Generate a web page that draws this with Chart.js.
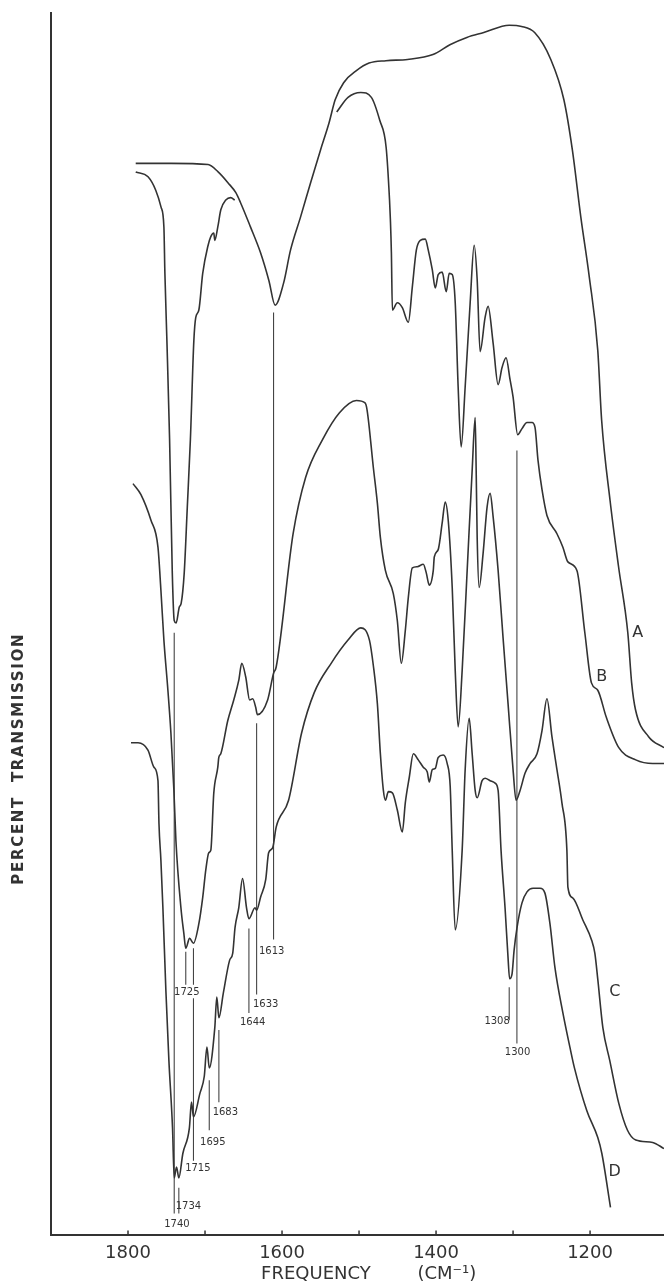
<!DOCTYPE html>
<html>
<head>
<meta charset="utf-8">
<script src="https://cdn.jsdelivr.net/npm/chart.js@4.4.1/dist/chart.umd.min.js"></script>
<style>
  html, body { margin: 0; padding: 0; background: #fff; }
  canvas { display: block; }
</style>
</head>
<body>
<canvas id="spectra" width="664" height="1287"></canvas>
<script>
// wavenumber (cm-1) and transmission, one pair of lists per trace
const aFreq = [1790, 1744, 1696, 1683, 1670, 1660, 1654, 1641, 1628, 1617, 1609, 1598, 1589, 1576, 1563, 1550, 1539, 1531, 1520, 1503,
  1487, 1465, 1437, 1404, 1382, 1360, 1338, 1305, 1289, 1272, 1251, 1234, 1223, 1212, 1201, 1190, 1185, 1174, 1163, 1151,
  1146, 1141, 1124, 1104];
const aT = [87.7, 87.7, 87.6, 87.0, 86.1, 85.3, 84.5, 82.5, 80.4, 78.1, 76.1, 77.9, 80.6, 83.3, 86.1, 88.8, 91.0, 92.9, 94.3, 95.3,
  95.9, 96.1, 96.2, 96.6, 97.4, 98.0, 98.4, 99.0, 98.9, 98.4, 96.2, 92.9, 88.8, 83.3, 78.4, 72.4, 66.7, 60.1, 54.7, 49.3,
  45.2, 43.0, 40.8, 39.9];

// B runs under A between 1660 and 1530, so it has a break there
const bFreq = [1790, 1774, 1764, 1757, 1753.4, 1752.1, 1749.5, 1746, 1742.5, 1740, 1737.5, 1733.4, 1731, 1727, 1723, 1719, 1714.5, 1712, 1708, 1703,
  1696.4, 1692.5, 1688.6, 1687.3, 1683.4, 1679.5, 1673, 1666.6, 1661.4,
  1600,
  1529, 1514.3, 1497.7, 1484, 1473, 1464.8, 1460.4, 1459.3, 1458, 1456.7, 1450.3, 1443.8, 1436, 1430.8, 1425.6, 1420.5, 1414, 1410.1, 1404.9, 1401,
  1397.2, 1392, 1386.8, 1382.9, 1379, 1375.1, 1371.3, 1367.4, 1362.2, 1355.7, 1350.5, 1346.6, 1342.8, 1336.3, 1332.4, 1325.9, 1319.4, 1314.3, 1309.1, 1303.9,
  1300, 1294, 1288.4, 1281.9, 1275.4, 1271.5, 1267.6, 1262.4, 1256, 1243, 1235.3, 1228.8, 1217.1, 1206.8, 1198.2, 1190, 1179, 1162.7, 1140.7, 1118.7,
  1104];
const bT = [87.0, 86.6, 85.5, 84.1, 82.5, 78.7, 73.2, 65.1, 54.2, 50.3, 50.1, 51.4, 51.7, 54.2, 59.6, 65.1, 73.2, 75.1, 75.7, 78.7,
  80.9, 81.7, 82.0, 81.4, 82.5, 83.9, 84.7, 84.9, 84.7,
  null,
  91.9, 93.1, 93.5, 93.1, 91.2, 89.0, 84.7, 83.1, 80.4, 75.7, 76.3, 75.9, 74.7, 77.6, 80.6, 81.4, 81.5, 80.6, 79.0, 77.5,
  78.6, 78.8, 77.2, 78.7, 78.6, 76.3, 69.4, 64.5, 69.4, 76.3, 81.0, 78.2, 72.3, 75.1, 76.0, 73.0, 69.6, 71.0, 71.8, 70.0,
  68.6, 65.5, 66.0, 66.5, 66.5, 66.1, 63.4, 61.0, 58.9, 57.4, 56.3, 55.1, 54.4, 49.3, 45.2, 44.6, 42.4, 39.9, 38.9, 38.6,
  38.6];

const cFreq = [1793.5, 1783.2, 1770.2, 1761.1, 1757.3, 1753.4, 1748.2, 1744.3, 1740.4, 1737.8, 1731.3, 1727.5, 1725, 1720, 1715, 1708, 1702.9, 1699, 1695.1, 1692.5,
  1688.6, 1683.4, 1682.1, 1679.5, 1670.5, 1662.7, 1656.2, 1652.3, 1647.2, 1642, 1638.1, 1634.2, 1632, 1618.7, 1610.9, 1607.6, 1585.6, 1569.4, 1547.4, 1525.4,
  1503.4, 1492.2, 1489.5, 1481.4, 1476.2, 1472.3, 1465.8, 1455.5, 1450.3, 1445.1, 1439.9, 1436, 1430.8, 1424.4, 1416.6, 1412.7, 1408.8, 1403.6, 1402.3, 1397.2,
  1392, 1388.1, 1384.2, 1379, 1375.1, 1371.3, 1366.1, 1359.6, 1353.1, 1349.2, 1347.9, 1346.6, 1344, 1338.9, 1333.7, 1329.8, 1325.9, 1319.4, 1313, 1306.5,
  1300, 1296.1, 1290.9, 1284.5, 1278, 1268.9, 1262.4, 1256, 1249.5, 1243, 1236.6, 1230.1, 1228.8, 1222.3, 1209.4, 1197.7, 1193.8, 1189.9, 1183.4, 1174.4,
  1162.7, 1151.4, 1140.7, 1118.7, 1104];
const cT = [61.5, 60.6, 58.5, 56.3, 52.8, 48.7, 44.6, 41.1, 36.4, 32.3, 26.8, 24.7, 23.5, 24.3, 23.9, 25.5, 27.7, 29.9, 31.3, 31.5,
  36.2, 38.3, 39.1, 39.4, 42.1, 43.8, 45.4, 46.8, 45.7, 43.8, 43.9, 43.2, 42.6, 43.8, 46.0, 46.5, 57.4, 62.0, 65.1, 67.3,
  68.3, 68.1, 67.5, 62.8, 59.9, 57.1, 54.4, 52.5, 50.3, 46.8, 49.5, 52.2, 54.6, 54.7, 54.9, 54.2, 53.2, 54.4, 55.5, 56.1,
  58.3, 60.0, 58.5, 53.0, 46.2, 41.6, 46.2, 54.4, 62.6, 66.9, 62.6, 57.1, 53.0, 55.8, 59.6, 60.7, 58.8, 54.4, 48.9, 43.5,
  38.1, 35.6, 36.4, 37.8, 38.6, 39.4, 41.3, 43.9, 40.8, 38.1, 35.4, 31.5, 28.5, 27.6, 25.8, 24.1, 23.1, 20.9, 17.0, 14.3,
  10.8, 8.6, 7.8, 7.6, 7.1];

const dFreq = [1796.1, 1787, 1774.1, 1766.3, 1761.1, 1759.8, 1757.3, 1754.7, 1750.8, 1746.9, 1742.2, 1740, 1737, 1734, 1728.8, 1720.3, 1717.6, 1715, 1706.7, 1701,
  1697.5, 1694.5, 1687.3, 1684.7, 1682, 1676.3, 1668.1, 1664, 1661, 1656.2, 1651.3, 1646.1, 1643, 1635.1, 1633, 1627.7, 1621.2, 1617.4, 1612.2, 1607.6,
  1591.5, 1574.6, 1558.2, 1536.2, 1514.3, 1497.7, 1486.5, 1481.4, 1476.2, 1472.3, 1468.4, 1465.8, 1461.9, 1456.7, 1450.3, 1443.8, 1439.9, 1434.7, 1429.5, 1423.1,
  1416.6, 1411.4, 1408.8, 1404.9, 1401, 1397.2, 1390.7, 1385.5, 1381.6, 1379, 1375.1, 1366.1, 1362.2, 1357, 1353.1, 1349.2, 1346.6, 1340.2, 1336.3, 1329.8,
  1323.3, 1319.4, 1315.6, 1310.4, 1306.5, 1304.5, 1301.3, 1298.7, 1294.8, 1288.4, 1281.9, 1274.1, 1265, 1258.6, 1252.1, 1245.6, 1235.3, 1226.2, 1220.3, 1204.2,
  1190, 1184.7, 1173.5];
const dT = [40.3, 40.3, 39.7, 38.3, 37.2, 33.7, 30.7, 26.8, 20.0, 14.3, 8.8, 4.7, 5.6, 4.7, 6.7, 8.8, 10.9, 9.7, 11.6, 13.0,
  15.4, 13.7, 17.0, 19.5, 17.8, 19.8, 22.5, 23.1, 25.2, 26.8, 29.2, 26.8, 25.9, 26.8, 26.6, 27.7, 29.1, 31.3, 31.7, 33.4,
  35.6, 41.1, 44.4, 46.8, 48.7, 49.7, 48.7, 46.6, 43.5, 39.4, 36.4, 35.6, 36.3, 36.2, 34.8, 33.0, 35.4, 37.5, 39.4, 38.9,
  38.3, 37.9, 37.1, 38.1, 38.2, 39.1, 39.3, 38.6, 36.7, 31.5, 25.0, 31.5, 38.1, 42.3, 39.4, 36.4, 35.8, 37.2, 37.4, 37.2,
  37.0, 36.4, 31.5, 26.8, 22.7, 21.0, 21.4, 23.3, 25.2, 27.2, 28.1, 28.4, 28.4, 28.0, 25.5, 21.9, 18.2, 15.4, 13.7, 10.2,
  8.0, 6.7, 2.3];

const tickValues = [1800, 1700, 1600, 1500, 1400, 1300, 1200];

// band assignment lines: where each stands and how far it runs
const markFreq = [1740, 1734, 1725, 1715, 1715, 1694.5, 1682, 1643, 1633, 1611, 1305, 1295];
const markTop = [49.3, 3.9, 23.2, 23.5, 19.4, 12.7, 16.8, 25.1, 41.9, 75.5, 20.3, 64.2];
const markBottom = [1.8, 1.8, 20.5, 20.5, 6.1, 8.6, 10.9, 18.2, 19.7, 24.2, 17.6, 15.7];

// the printed band numbers
const markText = ['1740', '1734', '1725', '1715', '1695', '1683', '1644', '1633', '1613', '1308', '1300'];
const markTextFreq = [1736.5, 1721.6, 1723.6, 1709.3, 1689.9, 1673.6, 1638.1, 1621.2, 1613.5, 1320.7, 1294.2];
const markTextT = [0.9, 2.4, 19.9, 5.5, 7.6, 10.1, 17.4, 18.9, 23.2, 17.5, 15.0];

const traceNames = ['A', 'B', 'C', 'D'];
const traceLabelFreq = [1138, 1185, 1168, 1168];
const traceLabelT = [49.3, 45.7, 19.9, 5.2];

const ink = '#333';

function trace(freq, t) {
  return freq.map((f, i) => ({ x: f, y: t[i] }));
}

const traceSets = [[aFreq, aT], [bFreq, bT], [cFreq, cT], [dFreq, dT]].map(([f, t]) => ({
  data: trace(f, t),
  borderColor: ink,
  borderWidth: 1.6,
  pointRadius: 0,
  fill: false,
  spanGaps: false,
  cubicInterpolationMode: 'monotone'
}));

const markSets = markFreq.map((f, i) => ({
  data: [{ x: f, y: markTop[i] }, { x: f, y: markBottom[i] }],
  borderColor: '#444',
  borderWidth: 1.1,
  pointRadius: 0,
  tension: 0
}));

// tick marks inside the plot, band numbers, trace letters and axis titles
const annotate = {
  id: 'annotate',
  afterDatasetsDraw(chart) {
    const { ctx, chartArea, scales: { x, y } } = chart;
    ctx.save();
    ctx.strokeStyle = ink;
    ctx.fillStyle = ink;
    ctx.lineWidth = 1.5;
    tickValues.forEach(v => {
      const px = x.getPixelForValue(v);
      ctx.beginPath();
      ctx.moveTo(px, chartArea.bottom);
      ctx.lineTo(px, chartArea.bottom - 5);
      ctx.stroke();
    });

    ctx.textAlign = 'center';
    ctx.textBaseline = 'middle';
    ctx.font = '10px "DejaVu Sans"';
    markText.forEach((t, i) => {
      ctx.fillText(t, x.getPixelForValue(markTextFreq[i]), y.getPixelForValue(markTextT[i]));
    });

    ctx.font = '16px "DejaVu Sans"';
    traceNames.forEach((t, i) => {
      ctx.fillText(t, x.getPixelForValue(traceLabelFreq[i]), y.getPixelForValue(traceLabelT[i]));
    });

    ctx.font = '18px "DejaVu Sans"';
    const titleY = chartArea.bottom + 39;
    ctx.fillText('FREQUENCY', x.getPixelForValue(1556), titleY);
    ctx.fillText('(CM\u207B\u00B9)', x.getPixelForValue(1386), titleY);

    ctx.translate(chartArea.left - 32, y.getPixelForValue(39));
    ctx.rotate(-Math.PI / 2);
    ctx.font = 'bold 15px "DejaVu Sans"';
    ctx.letterSpacing = '1.7px';
    ctx.fillText('PERCENT  TRANSMISSION', 0, 0);
    ctx.restore();
  }
};

Chart.defaults.font.family = '"DejaVu Sans"';

new Chart(document.getElementById('spectra'), {
  type: 'line',
  data: { datasets: traceSets.concat(markSets) },
  options: {
    responsive: false,
    devicePixelRatio: 1,
    animation: false,
    events: [],
    layout: { padding: { left: 51, top: 13, right: 0, bottom: 16 } },
    plugins: {
      legend: { display: false },
      tooltip: { enabled: false }
    },
    scales: {
      x: {
        type: 'linear',
        reverse: true,
        min: 1104,
        max: 1900,
        grid: { display: false, drawTicks: false },
        border: { display: true, color: ink, width: 2 },
        afterBuildTicks: scale => {
          scale.ticks = tickValues.map(v => ({ value: v }));
        },
        ticks: {
          autoSkip: false,
          maxRotation: 0,
          padding: 7,
          color: ink,
          font: { size: 18 },
          callback: v => (v % 200 === 0 ? String(v) : '')
        }
      },
      y: {
        min: 0,
        max: 100,
        grid: { display: false, drawTicks: false },
        border: { display: true, color: ink, width: 2 },
        ticks: { display: false }
      }
    }
  },
  plugins: [annotate]
});
</script>
</body>
</html>
